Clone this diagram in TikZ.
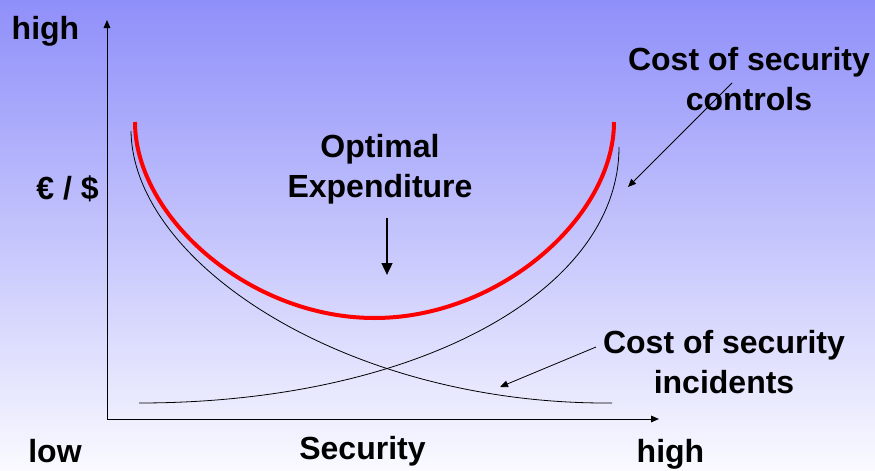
\documentclass[tikz,border=0pt]{standalone}
\usepackage{fontspec}
\setmainfont{Liberation Sans}
\usetikzlibrary{arrows.meta}

\definecolor{skytop}{RGB}{143,143,250}
\definecolor{skybottom}{RGB}{250,250,255}

\tikzset{
  lbl/.style={font=\fontsize{24}{29.5}\selectfont\bfseries, align=center, inner sep=0pt, anchor=base},
  axis/.style={line width=0.75pt, -{Triangle[length=6pt, width=5pt]}},
  curve/.style={line width=0.6pt},
  pointer/.style={line width=0.6pt, -{Triangle[length=6pt, width=5pt]}},
}

\begin{document}
\begin{tikzpicture}[x=0.75pt, y=-0.75pt]
  % background
  \shade[top color=skytop, bottom color=skybottom] (0,0) rectangle (875,471);
  \useasboundingbox (0,0) rectangle (875,471);

  % Define nodes
  \node[lbl] (yhigh) at (45.5,39) {high};
  \node[lbl] (ylabel) at (67.5,199) {€ / \$};
  \node[lbl] (xlow) at (55,462) {low};
  \node[lbl] (xlabel) at (362.5,459) {Security};
  \node[lbl] (xhigh) at (670.5,462) {high};
  \node[lbl] (optimal) at (380,197) {Optimal\\Expenditure};
  \node[lbl] (controls) at (749,110) {Cost of security\\controls};
  \node[lbl] (incidents) at (724,393) {Cost of security\\incidents};

  % axes
  \coordinate (origin) at (107,419);
  \coordinate (ytop) at (107,20);
  \coordinate (xend) at (659,419);
  \draw[axis] (origin) -- (ytop);
  \draw[axis] (origin) -- (xend);

  % cost curves
  \coordinate (inc0) at (131,131);
  \coordinate (inc1) at (612,403);
  \coordinate (ctl0) at (139,403);
  \coordinate (ctl1) at (619,147);
  \draw[curve] (inc0) .. controls (133,265) and (350,405) .. (inc1);
  \draw[curve] (ctl0) .. controls (413,403) and (619,293) .. (ctl1);

  % total cost
  \coordinate (tot0) at (135,122);
  \coordinate (totmin) at (374.5,318);
  \coordinate (tot1) at (614,122);
  \draw[red, line width=3pt] (tot0) .. controls (135,217) and (249.5,318) .. (totmin)
    .. controls (499.5,318) and (614,217) .. (tot1);

  % connect labels to curves
  \coordinate (ctlfrom) at (732,83);
  \coordinate (ctlto) at (628,187);
  \coordinate (incfrom) at (596,347);
  \coordinate (incto) at (500,387);
  \coordinate (optfrom) at (387,218);
  \coordinate (optto) at (387,275);
  \draw[pointer] (ctlfrom) -- (ctlto);
  \draw[pointer] (incfrom) -- (incto);
  \draw[line width=1.8pt, -{Triangle[length=9pt, width=8pt]}] (optfrom) -- (optto);
\end{tikzpicture}
\end{document}
